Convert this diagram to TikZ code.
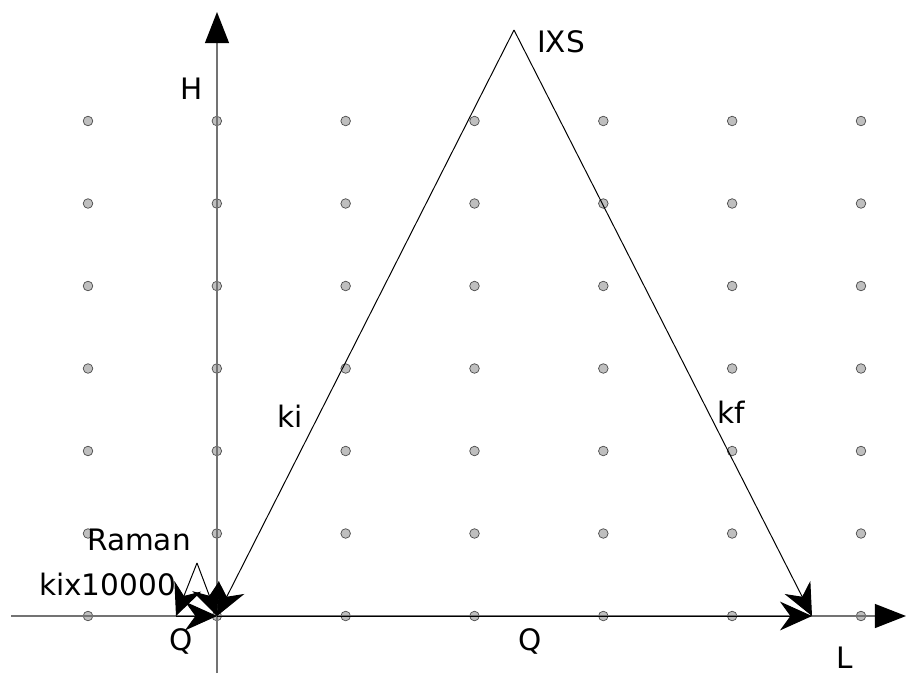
\documentclass[tikz,border=0pt]{standalone}
\usepackage{fontspec}
\setmainfont{DejaVu Sans}
\usetikzlibrary{arrows.meta}

\begin{document}
\begin{tikzpicture}[
    x=0.025cm, y=-0.025cm,
    every node/.style={font=\fontsize{21}{25}\selectfont},
    lbl/.style={inner sep=0pt, anchor=base},
    dot/.style={draw=black!70, fill=black!25, line width=0.5pt},
    axis/.style={draw=black!55, line width=1.1pt, -{Triangle[length=0.78cm, width=0.6cm, color=black]}},
    vec/.style={draw=black, line width=0.7pt, -{Stealth[length=0.8cm, width=0.72cm, inset=0.26cm]}}
]
\useasboundingbox (0,0) rectangle (908,673);

% ============ LATTICE POINTS ============
\foreach \i in {0,...,6} {
  \foreach \j in {0,...,6} {
    \path[dot] (88+128.83*\i, 121+82.5*\j) circle[radius=1.2mm];
  }
}

% ============ AXES ============
\coordinate (xstart) at (11,616);
\coordinate (xend) at (906,616);
\coordinate (ystart) at (217,673);
\coordinate (yend) at (217,12);
\draw[axis] (xstart) -- (xend);
\draw[axis] (ystart) -- (yend);

% ============ LABELS ============
\node[lbl] (hlabel) at (192,99) {H};
\node[lbl] (llabel) at (845,668) {L};
\node[lbl] (ixs) at (561,52) {IXS};
\node[lbl] (kilabel) at (290,427) {ki};
\node[lbl] (kflabel) at (731,423) {kf};
\node[lbl] (qbig) at (530,650) {Q};
\node[lbl] (raman) at (139,550) {Raman};
\node[lbl] (kiscale) at (107.5,595) {kix10000};
\node[lbl] (qsmall) at (181,650) {Q};

% ============ IXS SCATTERING TRIANGLE ============
\coordinate (origin) at (217,616);
\coordinate (apex) at (514,30);
\coordinate (kfend) at (812,616);
\draw[vec] (apex) -- (origin);
\draw[vec] (apex) -- (kfend);
\draw[vec] (origin) -- (kfend);

% ============ RAMAN TRIANGLE ============
\coordinate (rtop) at (197,563);
\coordinate (rleft) at (176,616);
\draw[vec] (rtop) -- (rleft);
\draw[vec] (rtop) -- (origin);
\draw[vec] (rleft) -- (origin);

\end{tikzpicture}
\end{document}
